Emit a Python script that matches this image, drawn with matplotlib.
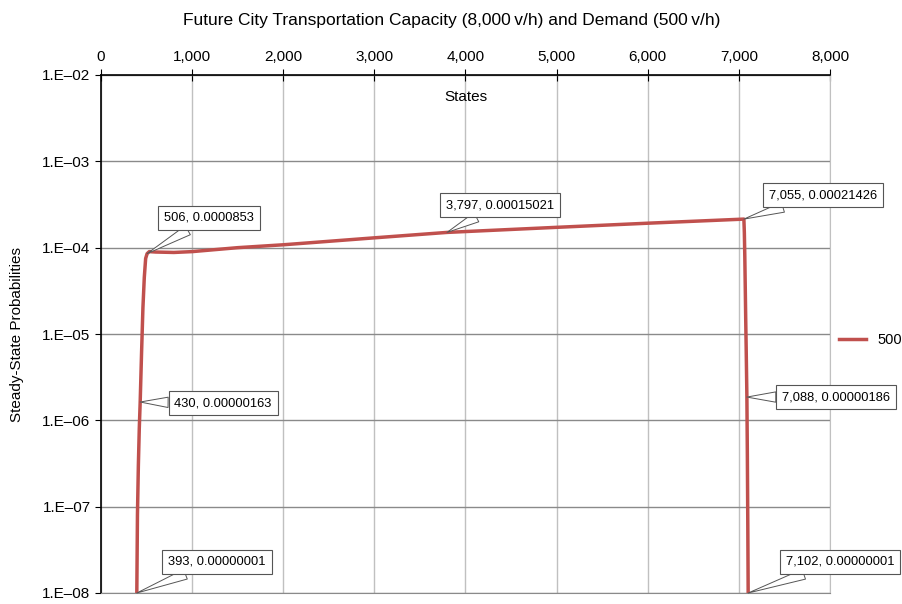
import math
import matplotlib
matplotlib.use('Agg')
import matplotlib.pyplot as plt
from matplotlib.ticker import FuncFormatter, FixedLocator

plt.rcParams['font.family'] = ['Liberation Sans', 'DejaVu Sans']

# 数据: 状态与稳态概率
states = [393, 400, 410, 420, 430, 445, 460, 475, 490, 506, 530, 600, 800,
          1000, 1500, 2000, 3000, 3797, 5000, 6000, 7000, 7055,
          7060, 7065, 7070, 7075, 7080, 7088, 7093, 7098, 7102]
probs = [1e-8, 8e-8, 3e-7, 8e-7, 1.63e-6, 6e-6, 2e-5, 4.5e-5, 7.5e-5, 8.53e-5,
         9.0e-5, 8.9e-5, 8.8e-5, 9.0e-5, 1.0e-4, 1.08e-4, 1.3e-4, 1.5021e-4,
         1.72e-4, 1.92e-4, 2.13e-4, 2.1426e-4,
         1.5e-4, 8e-5, 3.5e-5, 1.5e-5, 7e-6, 1.86e-6, 4e-7, 6e-8, 1e-8]

# 标注点
ann_x = [506, 3797, 7055, 430, 7088, 393, 7102]
ann_y = [8.53e-5, 1.5021e-4, 2.1426e-4, 1.63e-6, 1.86e-6, 1e-8, 1e-8]
ann_text = ['506, 0.0000853', '3,797, 0.00015021', '7,055, 0.00021426',
            '430, 0.00000163', '7,088, 0.00000186', '393, 0.00000001',
            '7,102, 0.00000001']
# 标注框中心 (像素, 左上原点)
ann_pos = [(209, 218), (500, 205), (823, 195), (223, 403), (836, 397),
           (217, 562), (840, 562)]

W, H = 903, 604
fig = plt.figure(figsize=(W / 100, H / 100), dpi=100)
ax = fig.add_axes([101 / W, (H - 593) / H, 729 / W, 518 / H])

ax.plot(states, probs, color='#c0504d', lw=2.5, label='500', zorder=3)

ax.set_yscale('log')
ax.set_ylim(1e-8, 1e-2)
ax.set_xlim(0, 8000)
ax.yaxis.set_major_locator(FixedLocator([10.0 ** e for e in range(-8, -1)]))
ax.yaxis.set_minor_locator(FixedLocator([]))
ax.yaxis.set_major_formatter(FuncFormatter(lambda v, p: '1.E\u2013%02d' % round(-math.log10(v))))
ax.set_xticks(range(0, 8001, 1000))
ax.xaxis.set_major_formatter(FuncFormatter(lambda v, p: f'{int(v):,}'))
ax.xaxis.tick_top()
ax.tick_params(axis='x', direction='inout', length=8, labelsize=11, pad=4)
ax.tick_params(axis='y', direction='out', length=4, labelsize=11)

ax.grid(axis='x', color='#c0c0c0', lw=1)
ax.grid(axis='y', color='#8a8a8a', lw=1)
ax.set_axisbelow(True)
for s in ['top', 'left']:
    ax.spines[s].set_color('black')
    ax.spines[s].set_linewidth(1.2)
ax.spines['bottom'].set_color('#8a8a8a')
ax.spines['right'].set_color('#c0c0c0')

ax.text(0.5, 1 - 22 / 518, 'States', transform=ax.transAxes,
        ha='center', va='center', fontsize=11)
fig.text(17 / W, 1 - 334 / H, 'Steady-State Probabilities', rotation=90,
         ha='center', va='center', fontsize=11)
fig.text(452 / W, 1 - 20 / H,
         'Future City Transportation Capacity (8,000\u2009v/h) and Demand (500\u2009v/h)',
         ha='center', va='center', fontsize=12.5)

for x, y, t, (px, py) in zip(ann_x, ann_y, ann_text, ann_pos):
    ax.annotate(t, xy=(x, y), xycoords='data',
                xytext=(px, H - py), textcoords='figure pixels',
                ha='center', va='center', fontsize=9.3, zorder=5,
                bbox=dict(boxstyle='square,pad=0.45', fc='white', ec='#555555', lw=0.8),
                arrowprops=dict(arrowstyle='wedge,tail_width=0.8', fc='white',
                                ec='#555555', lw=0.7, shrinkA=0, shrinkB=0))

ax.legend(loc='center left', bbox_to_anchor=(1.005, (593 - 340) / 518),
          frameon=False, fontsize=10.5, handlelength=1.8, borderaxespad=0)

fig.savefig('out.png', dpi=100)
